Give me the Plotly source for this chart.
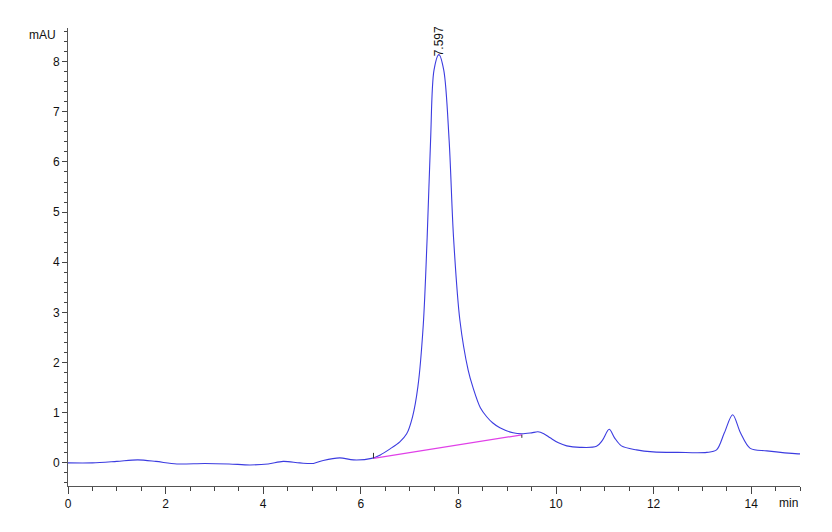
import plotly.graph_objects as go

# Chromatogram trace (retention time in min, signal in mAU)
time_min = [0, 0.5, 1.0, 1.43, 1.8, 2.23, 2.8, 3.3, 3.73, 4.1, 4.41, 4.75, 5.03, 5.23,
            5.57, 5.85, 6.22, 6.4, 6.6, 6.8, 6.94, 7.06, 7.17, 7.28, 7.36, 7.43, 7.50,
            7.60, 7.70, 7.81, 7.90, 8.03, 8.20, 8.30, 8.45, 8.58, 8.70,
            8.85, 9.12, 9.30, 9.50, 9.63, 9.75, 9.88, 10.05, 10.22, 10.49, 10.83,
            10.95, 11.09, 11.2, 11.34, 11.65, 11.99, 12.5, 13.09, 13.29, 13.45, 13.62,
            13.78, 13.98, 14.32, 14.96, 15.0]
signal_mau = [0, 0.0, 0.03, 0.06, 0.03, -0.02, -0.01, -0.02, -0.04, -0.02, 0.03, 0.0,
              -0.01, 0.05, 0.10, 0.06, 0.09, 0.16, 0.28, 0.42, 0.58, 0.92, 1.52, 2.75,
              4.5, 6.43, 7.83, 8.14, 7.83, 6.43, 4.5, 2.85, 1.85, 1.50,
              1.10, 0.92, 0.80, 0.70, 0.60, 0.58, 0.60, 0.62, 0.58, 0.50, 0.40, 0.34,
              0.31, 0.33, 0.45, 0.67, 0.50, 0.34, 0.26, 0.22, 0.21, 0.21, 0.26, 0.6,
              0.96, 0.6, 0.29, 0.24, 0.18, 0.18]

# Integration baseline of the main peak
baseline_t = [6.26, 9.30]
baseline_v = [0.09, 0.56]
baseline_marker_len = [0.11, -0.06]   # small start/end markers (mAU)

peak_rt = 7.597
peak_height = 8.12
peak_label = "7.597"

x_ticks = [0, 2, 4, 6, 8, 10, 12, 14]
y_ticks = [0, 1, 2, 3, 4, 5, 6, 7, 8]

fig = go.Figure()
fig.add_trace(go.Scatter(x=time_min, y=signal_mau, mode="lines",
                         line=dict(color="#3c3ce0", width=1.1, shape="spline", smoothing=0.9),
                         hoverinfo="x+y"))
fig.add_trace(go.Scatter(x=baseline_t, y=baseline_v, mode="lines",
                         line=dict(color="#e040e8", width=1.2)))
for bt, bv, bl in zip(baseline_t, baseline_v, baseline_marker_len):
    fig.add_shape(type="line", x0=bt, x1=bt, y0=bv, y1=bv + bl,
                  line=dict(color="#333", width=1))

fig.add_annotation(x=peak_rt, y=peak_height, text=peak_label, textangle=-90,
                   showarrow=False, xanchor="center", yanchor="bottom", yshift=-3,
                   font=dict(family="Liberation Sans, Arial", size=12, color="#111"))
fig.add_annotation(xref="paper", yref="paper", x=-0.0137, y=0.985, text="mAU",
                   showarrow=False, xanchor="right", yanchor="middle",
                   font=dict(family="Liberation Sans, Arial", size=12, color="#111"))
fig.add_annotation(xref="paper", yref="paper", x=1.0, y=-0.037, text="min",
                   showarrow=False, xanchor="right", yanchor="middle",
                   font=dict(family="Liberation Sans, Arial", size=12, color="#111"))

axis_font = dict(family="Liberation Sans, Arial", size=12, color="#111")
fig.update_layout(
    width=832, height=532,
    margin=dict(l=60, r=40, t=20, b=54),
    paper_bgcolor="white", plot_bgcolor="white",
    showlegend=False,
    xaxis=dict(range=[0, 15], tickvals=x_ticks, ticks="outside", ticklen=7,
               tickcolor="#444", showline=True, linecolor="#555", linewidth=1,
               showgrid=False, zeroline=False, tickfont=axis_font,
               minor=dict(dtick=0.5, ticks="outside", ticklen=4, tickcolor="#444")),
    yaxis=dict(range=[-0.46, 8.67], tickvals=y_ticks, ticks="outside", ticklen=5,
               tickcolor="#444", showline=True, linecolor="#555", linewidth=1,
               showgrid=False, zeroline=False, tickfont=axis_font,
               minor=dict(dtick=0.2, tick0=0, ticks="outside", ticklen=3, tickcolor="#444")),
)

fig.write_html("out.html")
